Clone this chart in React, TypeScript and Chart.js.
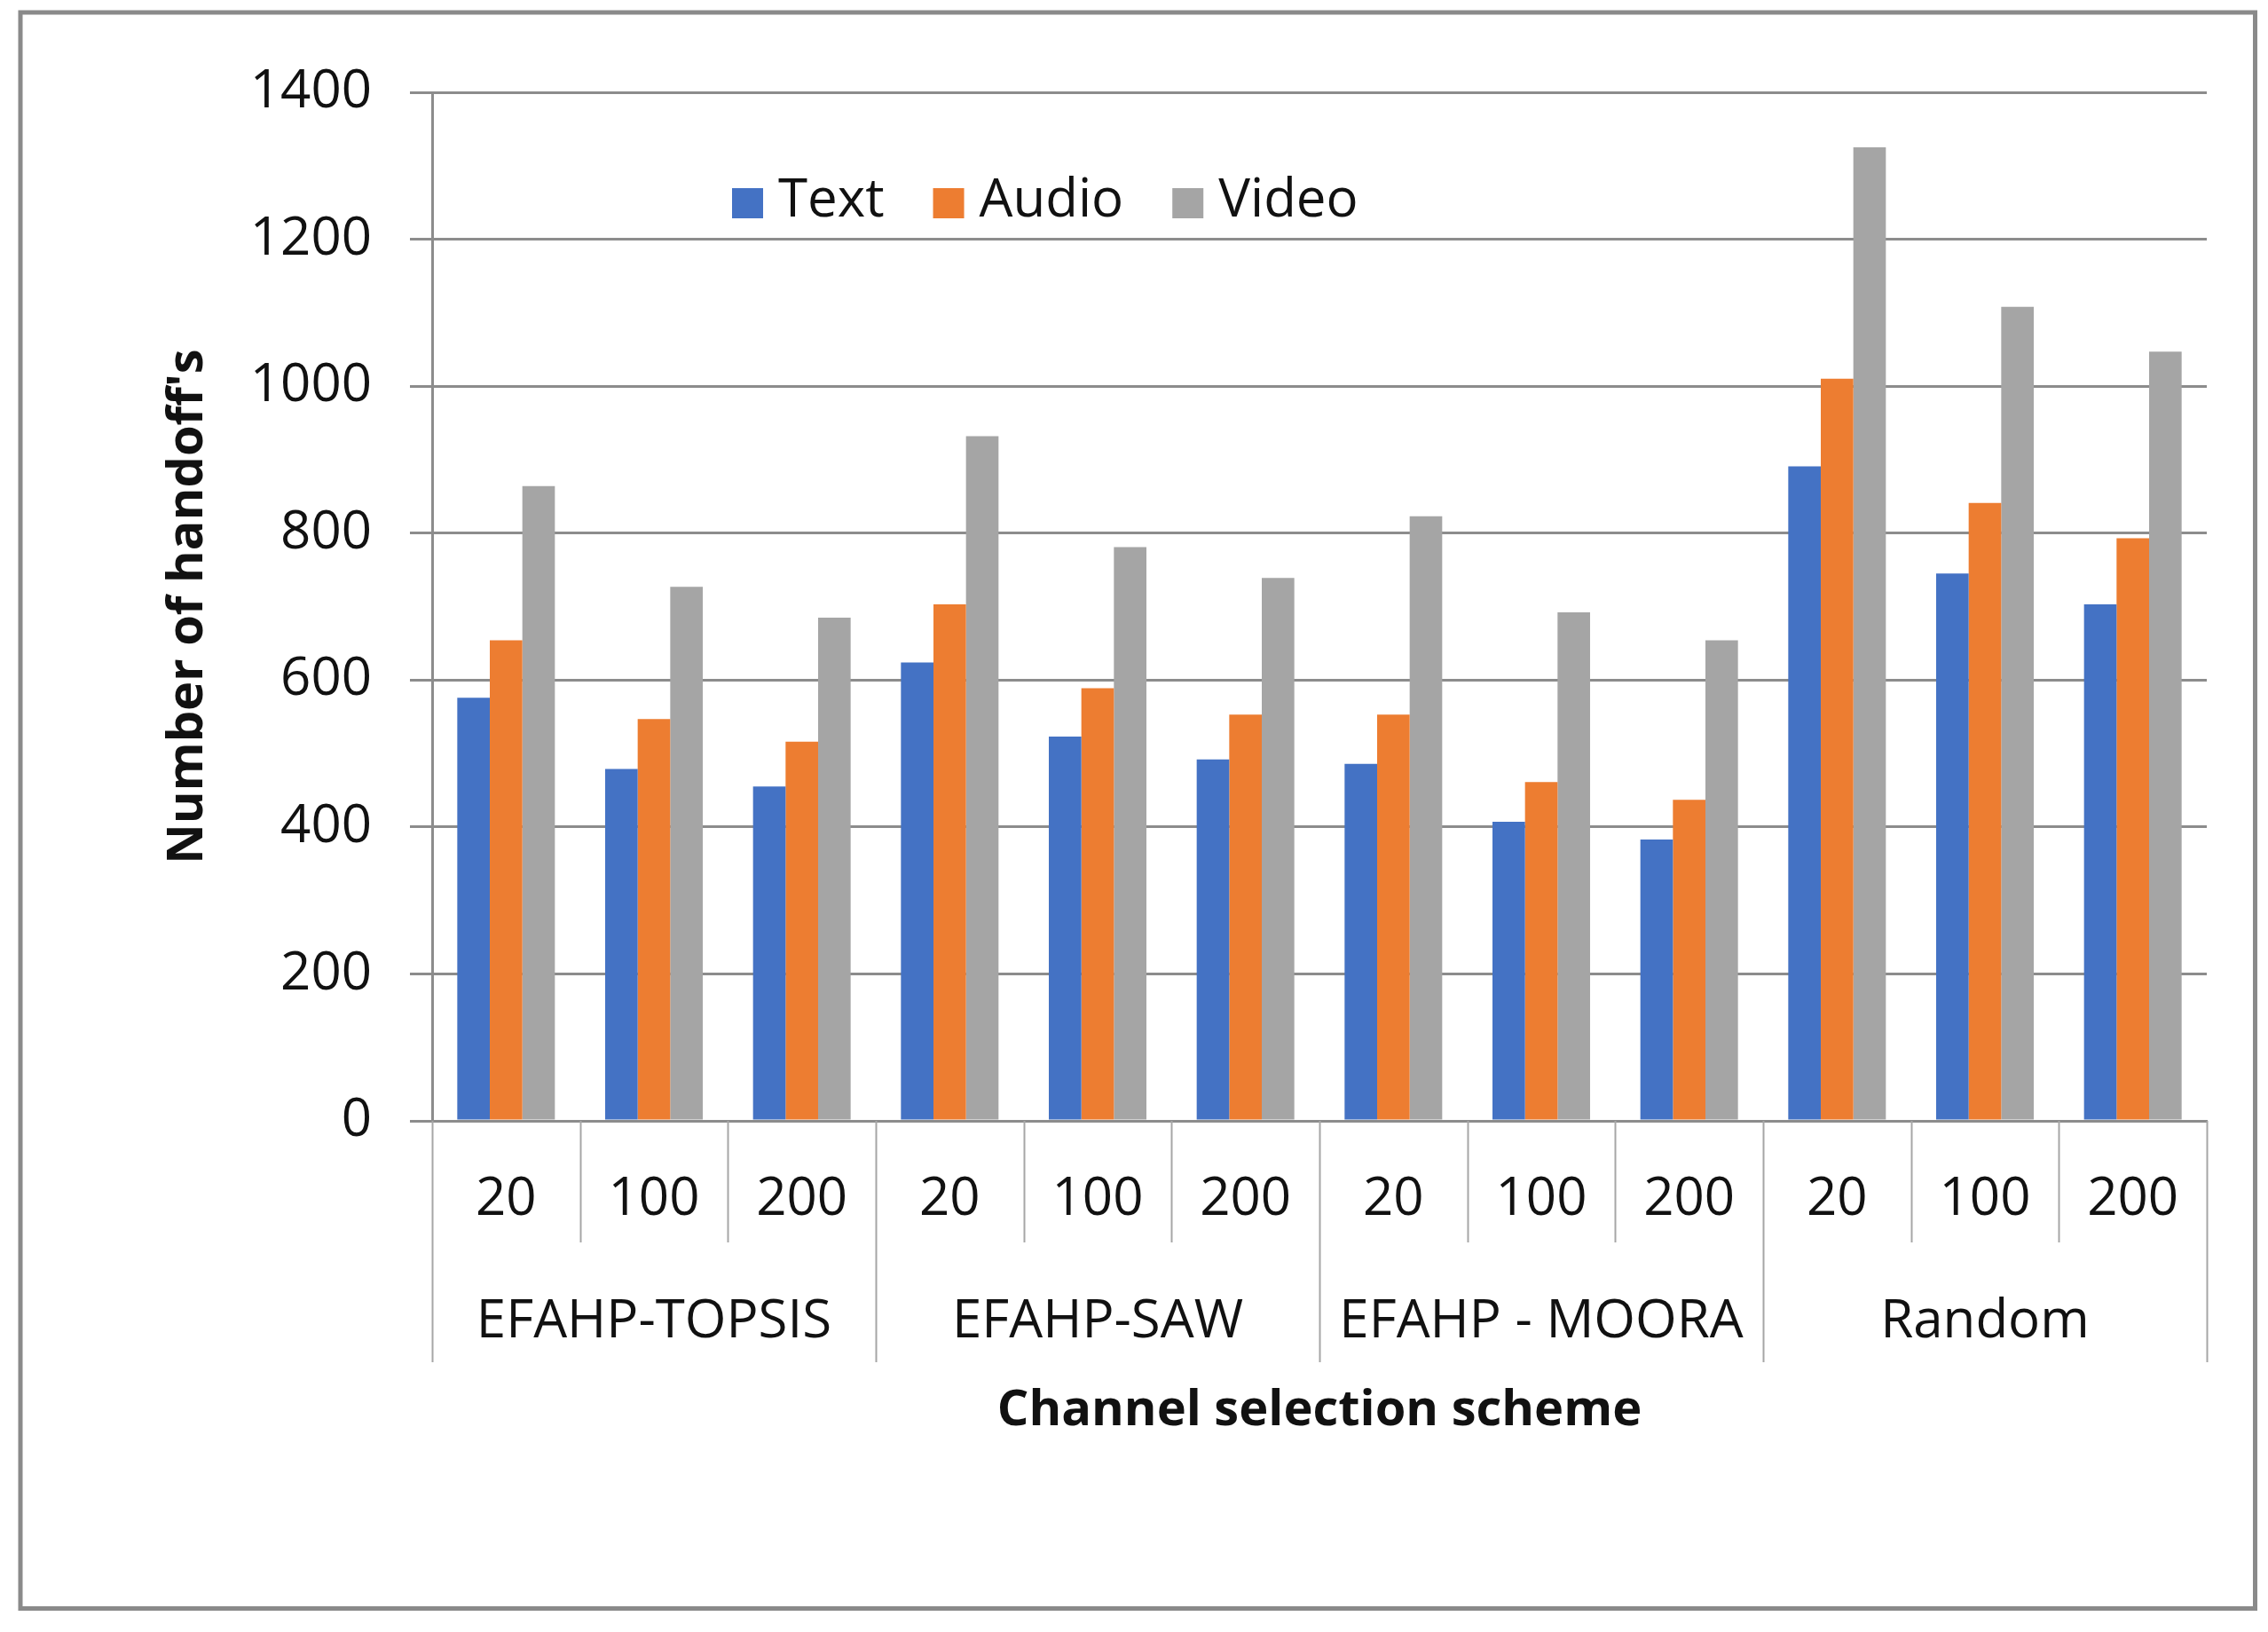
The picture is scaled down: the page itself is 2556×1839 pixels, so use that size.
import React, { useEffect, useRef } from "react";
import { Chart, registerables } from "chart.js";

Chart.register(...registerables);

const subLabels = ["20", "100", "200", "20", "100", "200", "20", "100", "200", "20", "100", "200"];
const groupLabels = ["EFAHP-TOPSIS", "EFAHP-SAW", "EFAHP - MOORA", "Random"];
const seriesNames = ["Text", "Audio", "Video"];
const textValues = [576, 479, 455, 624, 523, 492, 486, 407, 383, 891, 745, 703];
const audioValues = [654, 547, 516, 703, 589, 553, 553, 461, 437, 1010, 841, 793];
const videoValues = [864, 727, 685, 932, 781, 739, 823, 692, 654, 1325, 1108, 1047];
const seriesColors = ["#4472C4", "#ED7D31", "#A5A5A5"];
const yMin = 0;
const yMax = 1400;
const yStep = 200;
const yTitle = "Number of handoff's";
const xTitle = "Channel selection scheme";

const FONT = "'Open Sans', 'DejaVu Sans', sans-serif";
const GRID = "#8c8c8c";

const decorPlugin = {
  id: "decor",
  beforeDraw(chart: any) {
    const { ctx, width, height } = chart;
    ctx.save();
    ctx.fillStyle = "#ffffff";
    ctx.fillRect(0, 0, width, height);
    ctx.strokeStyle = "#8a8a8a";
    ctx.lineWidth = 5;
    ctx.strokeRect(23, 14, 2518.5, 1798.5);
    ctx.restore();
  },
  afterDraw(chart: any) {
    const { ctx, chartArea } = chart;
    const x = chart.scales.x;
    const n = subLabels.length;
    const half = (x.getPixelForValue(1) - x.getPixelForValue(0)) / 2;
    ctx.save();
    // category dividers
    ctx.strokeStyle = "#a6a6a6";
    ctx.lineWidth = 2;
    for (let k = 0; k <= n; k++) {
      const px = k === n ? x.getPixelForValue(n - 1) + half : x.getPixelForValue(k) - half;
      const isGroup = k % 3 === 0;
      ctx.beginPath();
      ctx.moveTo(Math.round(px) + 0.5, chartArea.bottom);
      ctx.lineTo(Math.round(px) + 0.5, isGroup ? 1535 : 1400);
      ctx.stroke();
    }
    // group labels
    ctx.fillStyle = "#111111";
    ctx.font = `60px ${FONT}`;
    ctx.textAlign = "center";
    ctx.textBaseline = "alphabetic";
    groupLabels.forEach((g, i) => {
      const cx = (x.getPixelForValue(i * 3) + x.getPixelForValue(i * 3 + 2)) / 2;
      ctx.fillText(g, cx, 1507);
    });
    // legend
    let lx = 825;
    ctx.textAlign = "left";
    chart.data.datasets.forEach((ds: any) => {
      ctx.fillStyle = ds.backgroundColor;
      ctx.fillRect(lx, 212, 35, 34);
      ctx.fillStyle = "#111111";
      ctx.fillText(ds.label, lx + 52, 244);
      const w = ctx.measureText(ds.label).width;
      lx = lx + 52 + w + 55;
    });
    ctx.restore();
  },
};

export default function App() {
  const ref = useRef<HTMLCanvasElement | null>(null);
  useEffect(() => {
    if (!ref.current) return;
    const values = [textValues, audioValues, videoValues];
    const chart = new Chart(ref.current, {
      type: "bar",
      data: {
        labels: subLabels,
        datasets: seriesNames.map((name, i) => ({
          label: name,
          data: values[i],
          backgroundColor: seriesColors[i],
          borderWidth: 0,
          categoryPercentage: 0.66,
          barPercentage: 1.0,
        })),
      },
      options: {
        responsive: false,
        devicePixelRatio: 1,
        animation: false,
        layout: { padding: { top: 104, right: 69, left: 0, bottom: 0 } },
        plugins: {
          legend: { display: false },
          tooltip: { enabled: false },
        },
        scales: {
          x: {
            grid: { display: false, drawTicks: false },
            border: { display: true, color: GRID, width: 3 },
            ticks: {
              color: "#111111",
              font: { family: FONT, size: 60 },
              padding: 53,
              maxRotation: 0,
              autoSkip: false,
            },
            title: {
              display: true,
              text: xTitle,
              color: "#111111",
              font: { family: FONT, size: 56, weight: "bold", lineHeight: 1.2 },
              padding: { top: 0, bottom: 215 },
            },
            afterFit(scale: any) {
              scale.height = 576;
            },
          },
          y: {
            min: yMin,
            max: yMax,
            ticks: {
              stepSize: yStep,
              color: "#111111",
              font: { family: FONT, size: 60 },
              padding: 43,
              callback: (v: any) => String(v),
            },
            grid: { color: GRID, lineWidth: 3, tickLength: 25, drawTicks: true, tickColor: GRID },
            border: { display: true, color: GRID, width: 3 },
            title: {
              display: true,
              text: yTitle,
              color: "#111111",
              font: { family: FONT, size: 56, weight: "bold", lineHeight: 1.2 },
              padding: { top: 178, bottom: 0 },
            },
            afterFit(scale: any) {
              scale.width = 487;
            },
          },
        },
      },
      plugins: [decorPlugin],
    });
    return () => chart.destroy();
  }, []);
  return (
    <div style={{ position: "absolute", left: 0, top: 0, width: 2556, height: 1839 }}>
      <canvas ref={ref} width={2556} height={1839} style={{ display: "block" }} />
    </div>
  );
}
